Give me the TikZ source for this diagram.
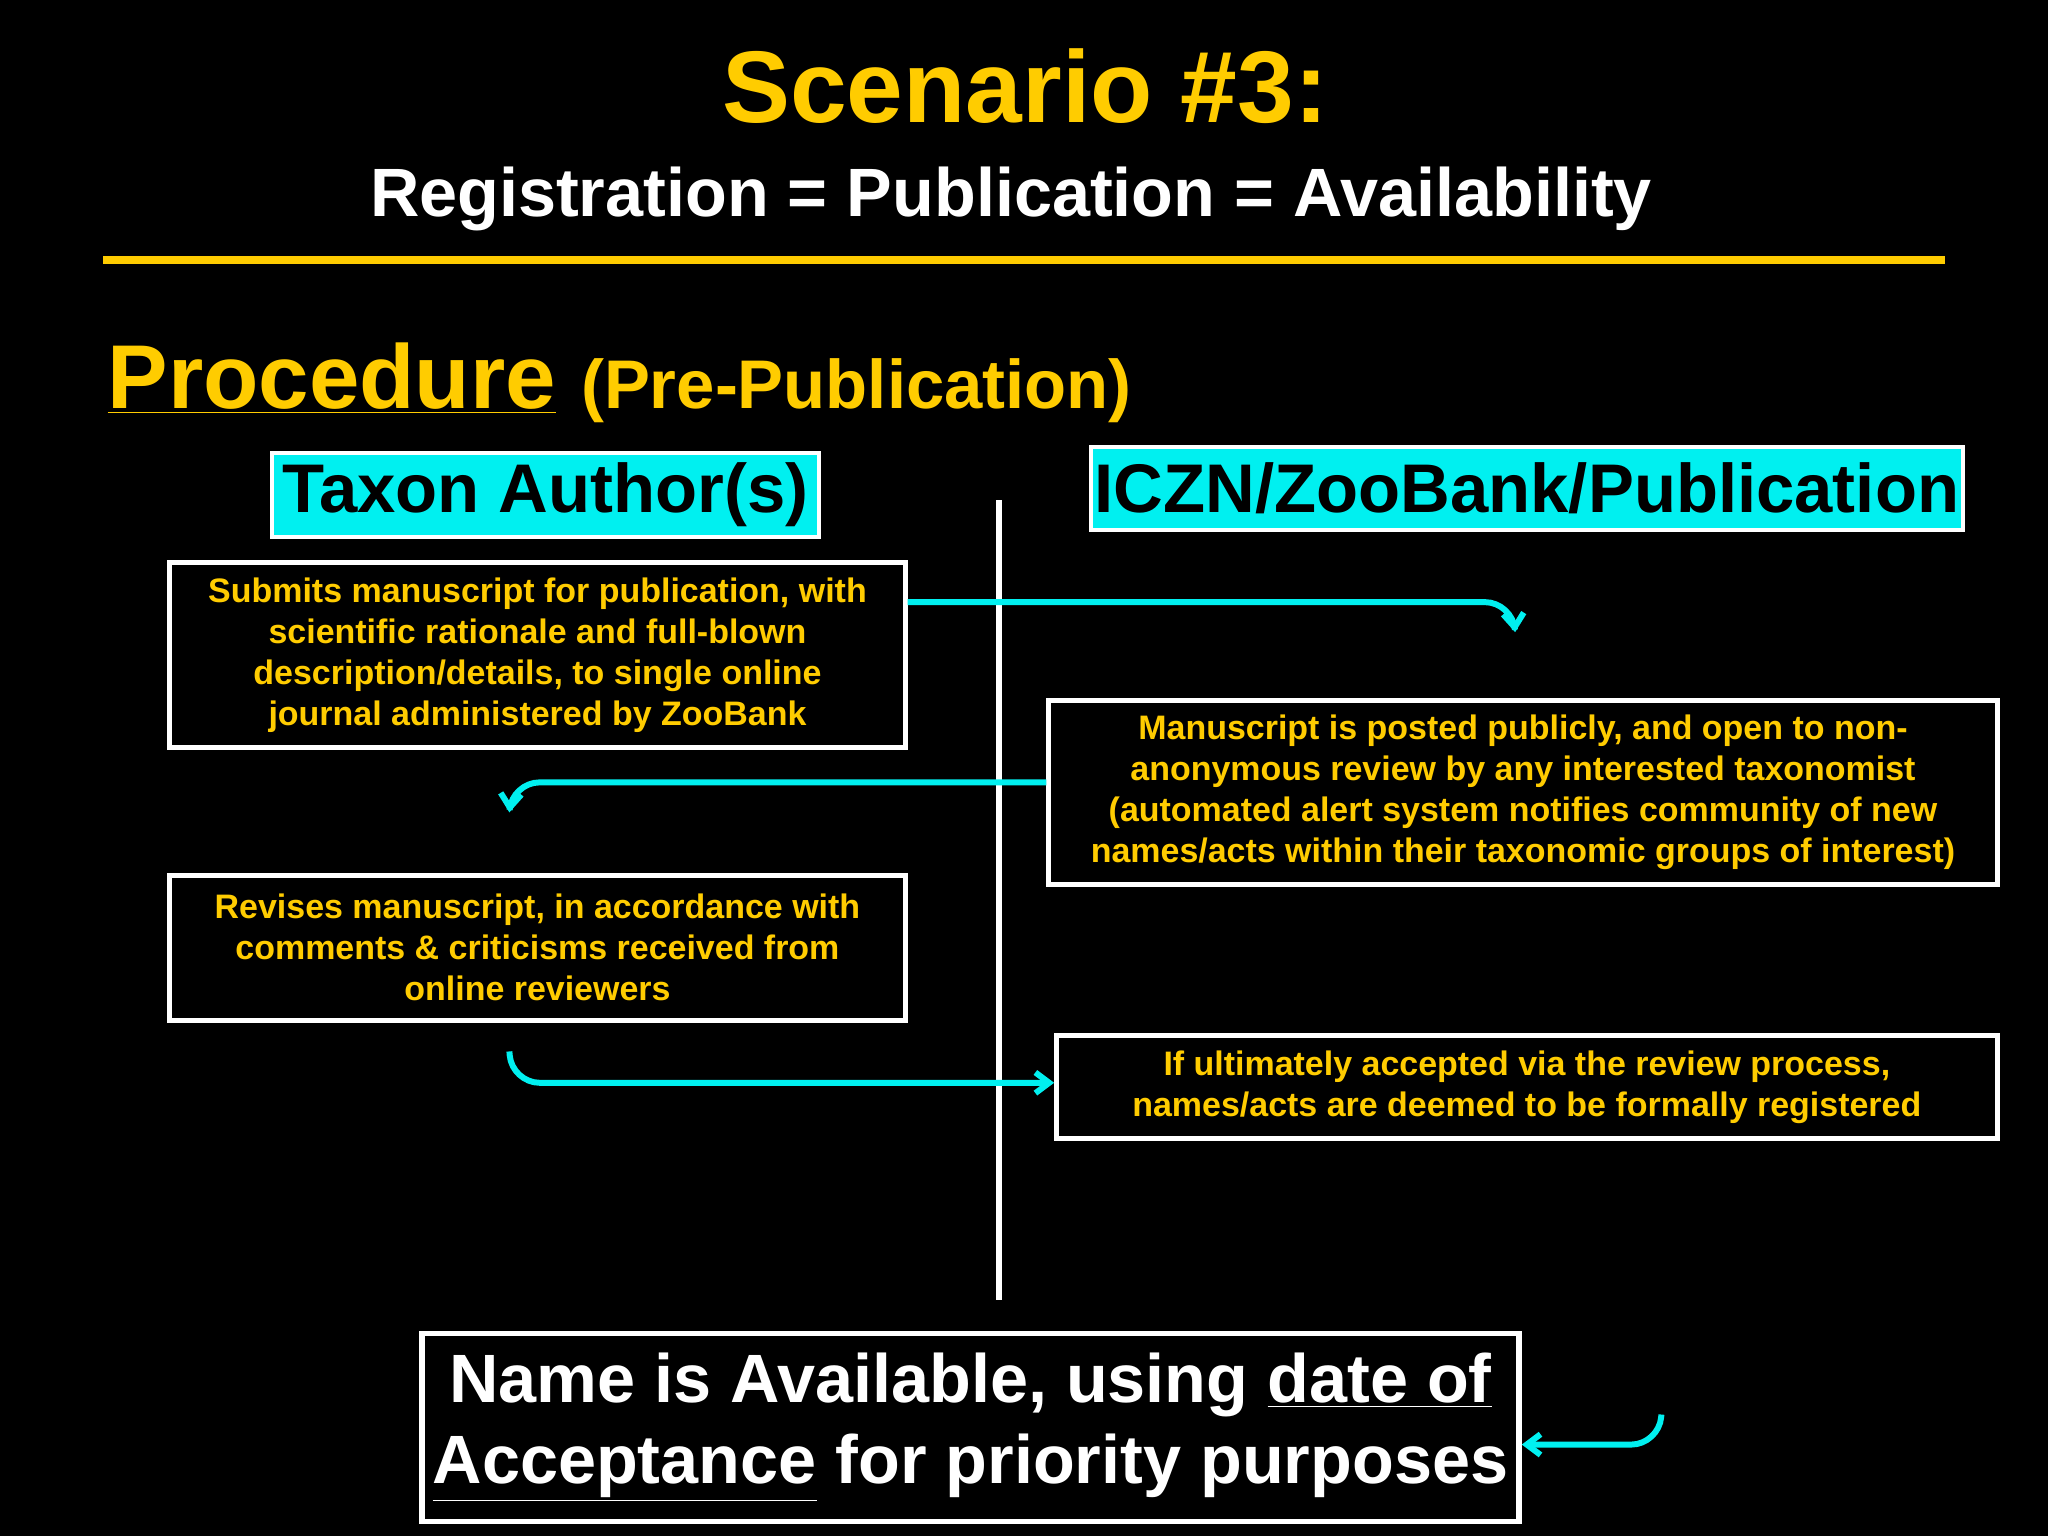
\documentclass[tikz,border=0pt]{standalone}
\usepackage{fontspec}
\setmainfont{Liberation Sans}
\usetikzlibrary{arrows.meta}
\definecolor{yel}{HTML}{FFCC00}
\definecolor{cy}{HTML}{00F0F0}
\begin{document}
\begin{tikzpicture}[x=0.02cm,y=-0.02cm,
  wbox/.style={draw=white,line width=2.2pt,text=yel,font=\bfseries\fontsize{14.8}{17.9}\selectfont,align=center,inner sep=0pt},
  hbox/.style={fill=cy,draw=white,line width=1.8pt,text=black,font=\bfseries\fontsize{30}{34}\selectfont,inner sep=0pt},
  arr/.style={cy,line width=2.6pt,-{Straight Barb[length=6pt,width=9pt]},rounded corners=12pt}]
\fill[black] (0,0) rectangle (1568,1176);
\node[text=yel,font=\bfseries\fontsize{44.4}{48}\selectfont] (t) at (785,66) {Scenario \#3:};
\node[text=white,font=\bfseries\fontsize{29.8}{34}\selectfont] (st) at (774,152) {Registration = Publication = Availability};
\coordinate (l1) at (79,199); \coordinate (l2) at (1489,199);
\draw[yel,line width=3.4pt] (l1)--(l2);
\node[anchor=base west,inner sep=0pt,text=yel,font=\bfseries] (pr) at (82,313) {\fontsize{39.5}{44}\selectfont\underline{Procedure} \fontsize{30}{34}\selectfont(Pre-Publication)};
\node[hbox,minimum width=419*0.02cm,minimum height=64*0.02cm] (ta) at (417.5,379) {Taxon Author(s)};
\node[hbox,minimum width=668*0.02cm,minimum height=64*0.02cm] (ic) at (1169,374) {ICZN/ZooBank/Publication};
\coordinate (v1) at (765,383); \coordinate (v2) at (765,995);
\draw[white,line width=2.4pt] (v1)--(v2);
\node[wbox,minimum width=563*0.02cm,minimum height=141*0.02cm] (b1) at (411.5,501.5) {Submits manuscript for publication, with\\scientific rationale and full-blown\\description/details, to single online\\journal administered by ZooBank};
\node[wbox,minimum width=726*0.02cm,minimum height=141*0.02cm] (b2) at (1166,606.5) {Manuscript is posted publicly, and open to non-\\anonymous review by any interested taxonomist\\(automated alert system notifies community of new\\names/acts within their taxonomic groups of interest)};
\node[wbox,minimum width=563*0.02cm,minimum height=111*0.02cm] (b3) at (411.5,725.5) {Revises manuscript, in accordance with\\comments \& criticisms received from\\online reviewers};
\node[wbox,minimum width=720*0.02cm,minimum height=79*0.02cm] (b4) at (1169,832.5) {If ultimately accepted via the review process,\\names/acts are deemed to be formally registered};
\node[draw=white,line width=2.4pt,text=white,align=center,inner sep=0pt,minimum width=840*0.02cm,minimum height=144*0.02cm,font=\bfseries\fontsize{29.8}{35.2}\selectfont] (fb) at (743,1093) {Name is Available, using \underline{date of}\\\underline{Acceptance} for priority purposes};
\coordinate (a1e) at (1160,484); \coordinate (a2e) at (390,622);
\coordinate (a3s) at (390,805); \coordinate (a4s) at (1272,1083);
\draw[arr] (b1.east|-0,461) -- (1158,461) -- (a1e);
\draw[arr] (b2.west|-0,599) -- (392,599) -- (a2e);
\draw[arr] (a3s) -- (392,829) -- (b4.west|-0,829);
\draw[arr] (a4s) -- (1270,1106) -- (fb.east|-0,1106);
\end{tikzpicture}
\end{document}
